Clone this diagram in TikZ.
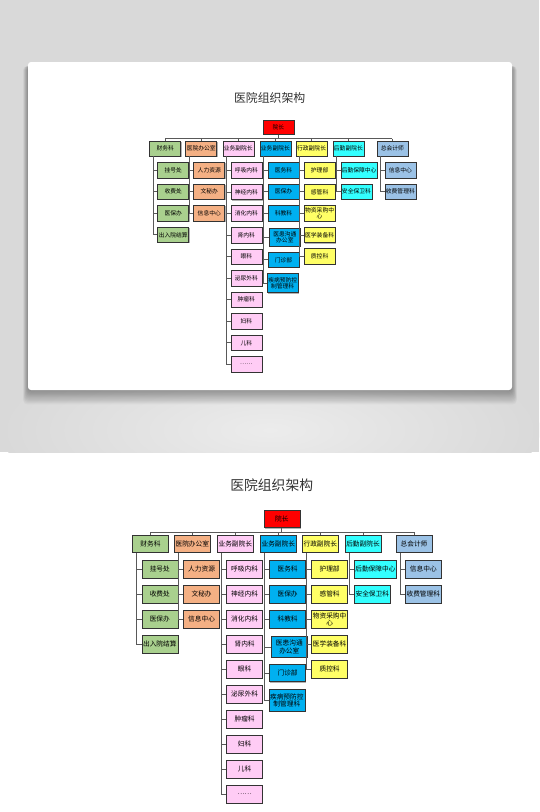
\documentclass[tikz,border=0pt]{standalone}
\usepackage{fontspec}
\newfontfamily\cjk{Noto Sans CJK SC}
\usetikzlibrary{shadows}

\definecolor{cBack}{HTML}{D9D9D9}
\definecolor{cLight}{HTML}{ECECEC}
\definecolor{cRed}{HTML}{FF0000}
\definecolor{cGreen}{HTML}{A9D08E}
\definecolor{cOrange}{HTML}{F4B084}
\definecolor{cPink}{HTML}{FFCCF5}
\definecolor{cBlue}{HTML}{00B0F0}
\definecolor{cYellow}{HTML}{FFFF66}
\definecolor{cCyan}{HTML}{33FFFF}
\definecolor{cSteel}{HTML}{9BC2E6}

\tikzset{
  box/.style={draw=black!80, line width=0.6pt, text=black, minimum width=36, minimum height=17.5,
    inner sep=1pt, align=center, font=\cjk\fontsize{6.7}{7.4}\selectfont,
    drop shadow={shadow xshift=0.8pt, shadow yshift=-0.8pt, fill=black!60, opacity=0.5}},
  kid/.style={box, anchor=west, minimum height=18},
  link/.style={draw=black!65, line width=0.9pt},
  title/.style={font=\cjk\fontsize{13.8}{16}\selectfont, text=black!80}
}

\begin{document}
\begin{tikzpicture}[x=1pt, y=-1pt]
\useasboundingbox (0,0) rectangle (539,812);
\fill[white] (0,0) rectangle (539,812);
\fill[cBack] (0,0) rectangle (539,452);
\begin{scope}
  \clip (0,0) rectangle (539,452);
  \shade[inner color=cLight, outer color=cBack] (270,430) ellipse [x radius=270pt, y radius=90pt];
\end{scope}
% card
\foreach \i in {1,...,12}
  \fill[black, opacity=0.03, rounded corners=4] (28-\i*0.4,66) rectangle (512+\i*0.4,390+\i*1.2);
\fill[white, rounded corners=3] (28,62) rectangle (512,390);

\foreach \s/\dx/\dy in {1/0/0, 0.862/35.5/-320.3}{
\begin{scope}[shift={(\dx,\dy)}, scale=\s, transform shape]
  \node[title] (ttl) at (271.7,485) {医院组织架构};
  \node[box, fill=cRed, minimum height=17] (dean) at (281.8,519.2) {院长};
  \coordinate (bus) at (281.8,532.3);

  \node[box, fill=cGreen] (fin) at (150.5,543.8) {财务科};
  \node[box, fill=cOrange] (office) at (192.3,543.8) {医院办公室};
  \node[box, fill=cPink] (vpA) at (235.3,543.8) {业务副院长};
  \node[box, fill=cBlue] (vpB) at (278.3,543.8) {业务副院长};
  \node[box, fill=cYellow] (admin) at (320.3,543.8) {行政副院长};
  \node[box, fill=cCyan] (logi) at (363,543.8) {后勤副院长};
  \node[box, fill=cSteel] (acct) at (414,543.8) {总会计师};

  \draw[link] (dean.south) -- (bus);
  \draw[link] (fin.north |- bus) -- (acct.north |- bus);
  \foreach \n in {fin,office,vpA,vpB,admin,logi,acct}
    \draw[link] (\n.north |- bus) -- (\n.north);

  \foreach \t [count=\i] in {挂号处,收费处,医保办,出入院结算}{
    \node[kid, fill=cGreen] (fin\i) at (141.5,544+25*\i) {\t};
    \draw[link] ([xshift=4.5pt]fin.south west) |- (fin\i.west);}
  \foreach \t [count=\i] in {人力资源,文秘办,信息中心}{
    \node[kid, fill=cOrange] (office\i) at (183.3,544+25*\i) {\t};
    \draw[link] ([xshift=4.5pt]office.south west) |- (office\i.west);}
  \foreach \t [count=\i] in {呼吸内科,神经内科,消化内科,肾内科,眼科,泌尿外科,肿瘤科,妇科,儿科,……}{
    \node[kid, fill=cPink] (vpA\i) at (226.3,544.3+25*\i) {\t};
    \draw[link] ([xshift=4.5pt]vpA.south west) |- (vpA\i.west);}
  \foreach \t/\x/\y/\h [count=\i] in {医务科/269.3/569/18, 医保办/269.3/594/18, 科教科/269.3/619.2/18,
      {医患沟通\\办公室}/271/647/20.7, 门诊部/269.3/673/17.5, {疾病预防控\\制管理科}/268.5/700.2/22}{
    \node[kid, fill=cBlue, minimum height=\h] (vpB\i) at (\x,\y) {\t};
    \draw[link] ([xshift=4.5pt]vpB.south west) |- (vpB\i.west);}
  \foreach \t [count=\i] in {护理部,感管科,{物资采购中\\心},医学装备科,质控科}{
    \node[kid, fill=cYellow] (admin\i) at (311.3,544.2+25*\i) {\t};
    \draw[link] ([xshift=4.5pt]admin.south west) |- (admin\i.west);}
  \foreach \t [count=\i] in {后勤保障中心,安全保卫科}{
    \node[kid, fill=cCyan] (logi\i) at (354,544+25*\i) {\t};
    \draw[link] ([xshift=4.5pt]logi.south west) |- (logi\i.west);}
  \foreach \t [count=\i] in {信息中心,收费管理科}{
    \node[kid, fill=cSteel] (acct\i) at (405,544+25*\i) {\t};
    \draw[link] ([xshift=4.5pt]acct.south west) |- (acct\i.west);}
\end{scope}}
\end{tikzpicture}
\end{document}
